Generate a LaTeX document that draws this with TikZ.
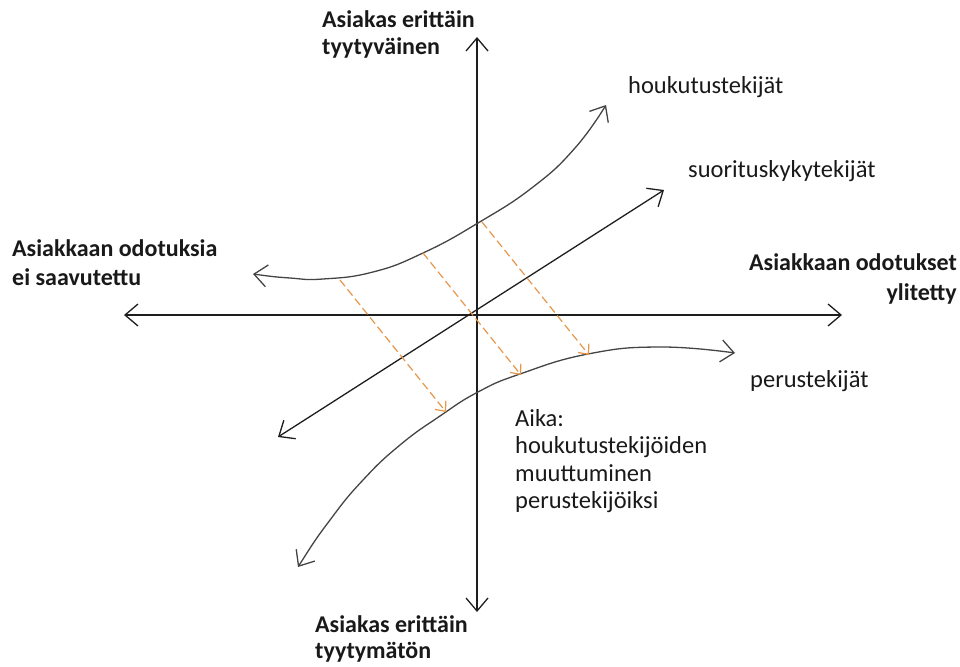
\documentclass[tikz,border=0pt]{standalone}
\usepackage{fontspec}
\setmainfont{Carlito}
\usetikzlibrary{arrows.meta}
\newcommand{\llines}[1]{\vtop{\halign{##\hfil\cr#1\crcr}}}
\newcommand{\rlines}[1]{\vtop{\halign{\hfil##\cr#1\crcr}}}
\definecolor{dashor}{RGB}{230,150,75}
\definecolor{curvegray}{RGB}{68,68,68}
\definecolor{axisblack}{RGB}{30,30,30}
\definecolor{txt}{RGB}{25,25,25}
\begin{document}
\begin{tikzpicture}[x=1pt,y=-1pt,
  axisline/.style={line width=1.3pt, draw=axisblack, {Straight Barb[length=13pt,width=22pt]}-{Straight Barb[length=13pt,width=22pt]}},
  curveline/.style={line width=1.3pt, draw=curvegray, {Straight Barb[length=13pt,width=22pt]}-{Straight Barb[length=13pt,width=22pt]}},
  shiftline/.style={line width=1.2pt, draw=dashor, dash pattern=on 8pt off 4pt, -{Straight Barb[length=8pt,width=14pt]}},
  boldlab/.style={inner sep=0pt, text=txt, font=\fontsize{24}{#1}\selectfont\bfseries},
  plainlab/.style={inner sep=0pt, text=txt, font=\fontsize{24.5}{#1}\selectfont},
]
\useasboundingbox (0,0) rectangle (960,666);

% axes
\coordinate (top) at (477,37);
\coordinate (bot) at (477,612);
\coordinate (lft) at (124,315);
\coordinate (rgt) at (842,315);
\draw[axisline] (bot) -- (top);
\draw[axisline] (lft) -- (rgt);

% diagonal (suorituskykytekijat)
\coordinate (dlo) at (278,437);
\coordinate (dhi) at (664,190);
\draw[axisline] (dlo) -- (dhi);

% upper curve (houkutustekijat)
\draw[curveline] plot[smooth, tension=0.8] coordinates
  {(253,274) (290,278) (323,279) (373,272) (423,253) (478,223) (533,187) (575,148) (606,105)};

% lower curve (perustekijat)
\draw[curveline] plot[smooth, tension=0.8] coordinates
  {(298,567) (330,520) (363,480) (400,445) (440,416) (478,392) (520,374) (588,354) (660,347) (735,353)};

% dashed shift arrows
\coordinate (s1) at (340,280); \coordinate (e1) at (446,412);
\coordinate (s2) at (423,253); \coordinate (e2) at (521,375);
\coordinate (s3) at (482,222); \coordinate (e3) at (589,355);
\draw[shiftline] (s1) -- (e1);
\draw[shiftline] (s2) -- (e2);
\draw[shiftline] (s3) -- (e3);

% labels
\node[boldlab=27, anchor=base west] (toplab) at (322,28) {\llines{Asiakas erittäin\cr tyytyväinen}};
\node[boldlab=29, anchor=base west] (leftlab) at (12,256) {\llines{Asiakkaan odotuksia\cr ei saavutettu}};
\node[boldlab=30, anchor=base east] (rightlab) at (957,270) {\rlines{Asiakkaan odotukset\cr ylitetty}};
\node[boldlab=26, anchor=base west] (botlab) at (315,632) {\llines{Asiakas erittäin\cr tyytymätön}};
\node[plainlab=27.5, anchor=base west] (aika) at (515,426) {\llines{Aika:\cr houkutustekijöiden\cr muuttuminen\cr perustekijöiksi}};
\node[plainlab=30, anchor=base west] (houk) at (628,94) {houkutustekijät};
\node[plainlab=30, anchor=base west] (suor) at (688,177) {suorituskykytekijät};
\node[plainlab=30, anchor=base west] (perus) at (750,387) {perustekijät};
\end{tikzpicture}
\end{document}
